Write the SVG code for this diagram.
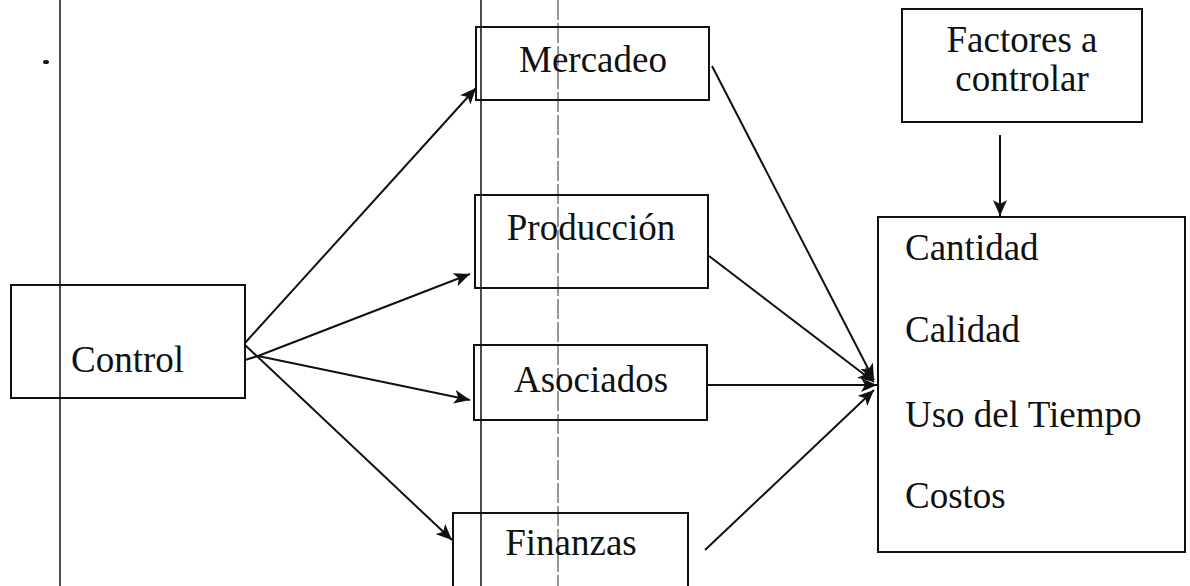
<svg xmlns="http://www.w3.org/2000/svg" width="1190" height="586" viewBox="0 0 1190 586">
  <style>
    .box { fill: none; stroke: #111; stroke-width: 2; }
    .lbl { font-family: "Liberation Serif", "Times New Roman", serif; font-size: 37px; fill: #111; }
    .mid { text-anchor: middle; }
    .con { stroke: #111; stroke-width: 2; fill: none; }
    .guide { stroke: #111; stroke-width: 1.5; }
    .guide2 { stroke: #333; stroke-width: 1; stroke-dasharray: 20 3; }
  </style>
  <defs>
    <marker id="ah" markerUnits="userSpaceOnUse" markerWidth="18" markerHeight="14" refX="16" refY="7" orient="auto">
      <path d="M0,0 L16,7 L0,14 L4,7 z" fill="#111"/>
    </marker>
  </defs>
  <rect width="1190" height="586" fill="#fff"/>

  <g id="guides">
    <line class="guide" x1="60" y1="0" x2="60" y2="586"/>
    <line class="guide" x1="481" y1="0" x2="481" y2="586"/>
    <line class="guide2" x1="558" y1="0" x2="558" y2="586"/>
    <ellipse cx="46" cy="62" rx="3" ry="2" fill="#111"/>
  </g>

  <g id="control">
    <rect class="box" x="11" y="285" width="234" height="113"/>
    <text class="lbl" x="71" y="372">Control</text>
  </g>

  <g id="mercadeo">
    <rect class="box" x="476" y="27" width="233" height="73"/>
    <text class="lbl mid" x="593" y="72">Mercadeo</text>
  </g>

  <g id="produccion">
    <rect class="box" x="475" y="195" width="233" height="93"/>
    <text class="lbl mid" x="591" y="240">Producción</text>
  </g>

  <g id="asociados">
    <rect class="box" x="474" y="345" width="233" height="75"/>
    <text class="lbl mid" x="591" y="392">Asociados</text>
  </g>

  <g id="finanzas">
    <rect class="box" x="453" y="513" width="235" height="90"/>
    <text class="lbl mid" x="571" y="555">Finanzas</text>
  </g>

  <g id="factores">
    <rect class="box" x="902" y="9" width="240" height="113"/>
    <text class="lbl mid" x="1022" y="52">Factores a</text>
    <text class="lbl mid" x="1022" y="91">controlar</text>
  </g>

  <g id="factores-lista">
    <rect class="box" x="878" y="217" width="307" height="335"/>
    <text class="lbl" x="905" y="260">Cantidad</text>
    <text class="lbl" x="905" y="342">Calidad</text>
    <text class="lbl" x="905" y="427">Uso del Tiempo</text>
    <text class="lbl" x="905" y="508">Costos</text>
  </g>

  <g id="connectors">
    <line class="con" x1="245" y1="343" x2="476" y2="88" marker-end="url(#ah)"/>
    <line class="con" x1="258" y1="356" x2="470" y2="274" marker-end="url(#ah)"/>
    <line class="con" x1="258" y1="356" x2="470" y2="400" marker-end="url(#ah)"/>
    <line class="con" x1="245" y1="345" x2="452" y2="540" marker-end="url(#ah)"/>
    <line class="con" x1="245" y1="360" x2="258" y2="356"/>
    <line class="con" x1="712" y1="66" x2="874" y2="380" marker-end="url(#ah)"/>
    <line class="con" x1="709" y1="256" x2="874" y2="382" marker-end="url(#ah)"/>
    <line class="con" x1="708" y1="385" x2="877" y2="385" marker-end="url(#ah)"/>
    <line class="con" x1="705" y1="550" x2="874" y2="390" marker-end="url(#ah)"/>
    <line class="con" x1="1000" y1="135" x2="1000" y2="216" marker-end="url(#ah)"/>
  </g>
</svg>
